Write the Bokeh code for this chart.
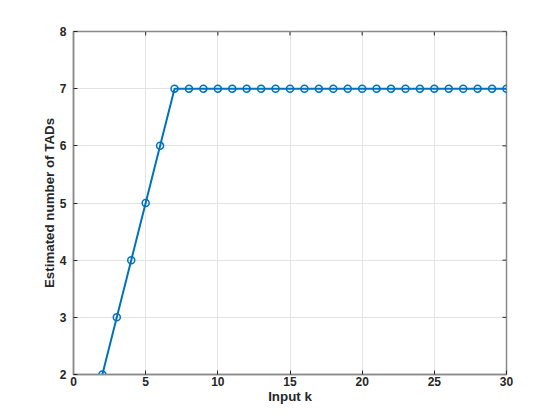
import math
from bokeh.plotting import figure
from bokeh.models import Range1d, FixedTicker
from bokeh.embed import file_html
from bokeh.resources import INLINE

k_values = list(range(2, 31))
tads = [2, 3, 4, 5, 6, 7, 7, 7, 7, 7, 7, 7, 7, 7, 7, 7, 7, 7, 7, 7, 7, 7, 7, 7, 7, 7, 7, 7, 7]
x_ticks = [0, 5, 10, 15, 20, 25, 30]
y_ticks = [2, 3, 4, 5, 6, 7, 8]
x_lo, x_hi = 0, 30
y_lo, y_hi = 2, 8

FONT = "Liberation Sans"
AX = "#8a8a8a"
TXT = "#262626"
BLUE = "#0072BD"

p = figure(width=552, height=412, output_backend="svg", toolbar_location=None,
           x_range=Range1d(x_lo, x_hi), y_range=Range1d(y_lo, y_hi),
           x_axis_label="Input k", y_axis_label="Estimated number of TADs",
           min_border_left=73, min_border_right=46, min_border_top=31, min_border_bottom=38)
p.outline_line_color = AX
p.outline_line_width = 1.5
p.background_fill_color = "white"
p.border_fill_color = "white"

p.xgrid.ticker = FixedTicker(ticks=x_ticks)
p.ygrid.ticker = FixedTicker(ticks=y_ticks)
p.grid.grid_line_color = "#e3e3e3"
p.grid.grid_line_width = 1

for ax in (p.xaxis[0], p.yaxis[0]):
    ax.axis_line_color = AX
    ax.axis_line_width = 1.5
    ax.major_tick_line_color = TXT
    ax.major_tick_in = 4
    ax.major_tick_out = 0
    ax.minor_tick_line_color = None
    ax.major_label_text_font = FONT
    ax.major_label_text_font_style = "bold"
    ax.major_label_text_font_size = "9pt"
    ax.major_label_text_color = TXT
    ax.axis_label_text_font = FONT
    ax.axis_label_text_font_style = "bold"
    ax.axis_label_text_font_size = "10pt"
    ax.axis_label_text_color = TXT
p.xaxis[0].ticker = FixedTicker(ticks=x_ticks)
p.yaxis[0].ticker = FixedTicker(ticks=y_ticks)
p.xaxis[0].major_label_standoff = 2
p.xaxis[0].axis_label_standoff = 0
p.yaxis[0].major_label_standoff = 7
p.yaxis[0].axis_label_standoff = 0

# mirror ticks on the top and right edges of the box
p.ray(x=x_ticks, y=[y_hi] * len(x_ticks), length=4, length_units="screen",
      angle=-math.pi / 2, line_color=TXT, line_width=1)
p.ray(x=[x_hi] * len(y_ticks), y=y_ticks, length=4, length_units="screen",
      angle=math.pi, line_color=TXT, line_width=1)

p.line(k_values, tads, line_color=BLUE, line_width=2)
p.scatter(k_values, tads, marker="circle", size=7, fill_color=None, line_color=BLUE, line_width=1.5)

open("out.html", "w").write(file_html(p, INLINE))
